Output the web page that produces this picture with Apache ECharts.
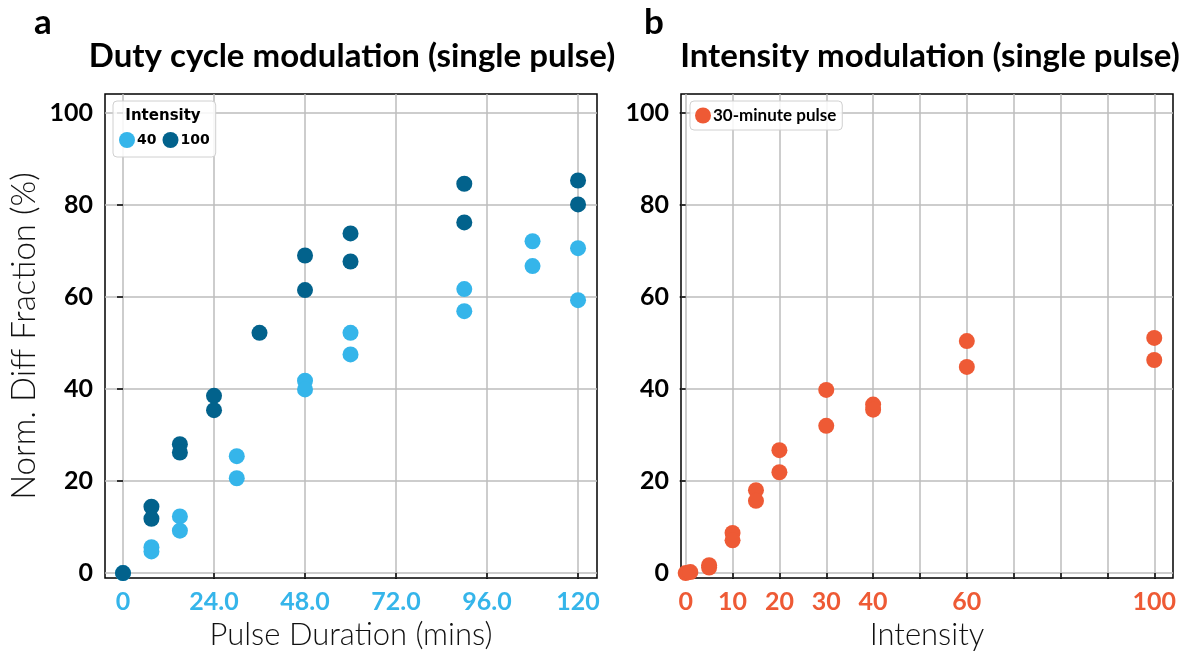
<!DOCTYPE html>
<html><head><meta charset="utf-8">
<script src="https://cdn.jsdelivr.net/npm/echarts@6/dist/echarts.min.js"></script>
<style>html,body{margin:0;padding:0;background:#fff}#c{width:1190px;height:655px}</style>
</head><body><div id="c"></div>
<script>
// ---- Panel a: duty cycle modulation ----
const durLight = [0, 7.5, 7.5, 15, 15, 30, 30, 48, 48, 60, 60, 90, 90, 108, 108, 120, 120];
const fracLight = [0, 5.6, 4.7, 12.3, 9.2, 25.4, 20.6, 41.8, 39.9, 52.2, 47.5, 61.7, 56.9, 72.1, 66.7, 70.6, 59.3];
const durDark = [0, 7.5, 7.5, 15, 15, 24, 24, 36, 48, 48, 60, 60, 90, 90, 120, 120];
const fracDark = [0, 14.4, 11.8, 28.0, 26.2, 38.5, 35.4, 52.2, 69.0, 61.5, 73.8, 67.7, 84.6, 76.2, 85.3, 80.1];
const xTickValsA = [0, 24, 48, 72, 96, 120];
const xTickLabelsA = ['0', '24.0', '48.0', '72.0', '96.0', '120'];
// ---- Panel b: intensity modulation ----
const intensity = [0, 1, 5, 5, 10, 10, 15, 15, 20, 20, 30, 30, 40, 40, 60, 60, 100, 100];
const fracInt = [0, 0.2, 1.7, 1.2, 8.7, 7.1, 18.0, 15.7, 26.7, 21.9, 39.8, 32.0, 36.6, 35.5, 50.4, 44.8, 51.1, 46.3];
const xTickValsB = [0, 10, 20, 30, 40, 50, 60, 70, 80, 90, 100];
const xLabelValsB = [0, 10, 20, 30, 40, 60, 100];
const yTickVals = [0, 20, 40, 60, 80, 100];

const cLight = '#35b5ea', cDark = '#02628c', cOrange = '#ee5a35';
const pair = (xs, ys) => xs.map((x, i) => [x, ys[i]]);
const tickFont = {fontFamily: 'Lato', fontWeight: 'bold', fontSize: 25};
const gridLine = {show: true, lineStyle: {color: '#bcbcbc', width: 1.5}};
const tickStyle = {show: true, length: 6, lineStyle: {color: '#000', width: 1.5}};
const nameFont = {fontFamily: 'Lato', fontWeight: 300, color: '#111'};

function yAxis(gridIndex, withName) {
  return {
    type: 'value', gridIndex, min: -1.1, max: 104.1,
    axisLine: {show: false},
    axisTick: Object.assign({customValues: yTickVals}, tickStyle),
    axisLabel: Object.assign({customValues: yTickVals, color: '#000', margin: 12}, tickFont),
    splitLine: Object.assign({customValues: yTickVals}, gridLine),
    name: withName ? 'Norm. Diff Fraction (%)' : '',
    nameLocation: 'middle', nameGap: 64,
    nameTextStyle: Object.assign({fontSize: 33}, nameFont)
  };
}

const option = {
  backgroundColor: '#fff',
  animation: false,
  grid: [
    {left: 105, right: 593, top: 94, bottom: 75, show: true, borderColor: '#000', borderWidth: 1.5},
    {left: 681, right: 17, top: 94, bottom: 75, show: true, borderColor: '#000', borderWidth: 1.5}
  ],
  xAxis: [
    {
      type: 'value', gridIndex: 0, min: -4.75, max: 125,
      axisLine: {show: false},
      axisTick: Object.assign({customValues: xTickValsA}, tickStyle),
      axisLabel: Object.assign({customValues: xTickValsA, color: cLight, margin: 11,
        formatter: v => xTickLabelsA[xTickValsA.indexOf(v)] ?? ''}, tickFont),
      splitLine: Object.assign({customValues: xTickValsA}, gridLine),
      name: 'Pulse Duration (mins)', nameLocation: 'middle', nameGap: 40,
      nameTextStyle: Object.assign({fontSize: 31}, nameFont)
    },
    {
      type: 'value', gridIndex: 1, min: -1, max: 104,
      axisLine: {show: false},
      axisTick: Object.assign({customValues: xTickValsB}, tickStyle),
      axisLabel: Object.assign({customValues: xLabelValsB, color: cOrange, margin: 11}, tickFont),
      splitLine: Object.assign({customValues: xTickValsB}, gridLine),
      name: 'Intensity', nameLocation: 'middle', nameGap: 40,
      nameTextStyle: Object.assign({fontSize: 31}, nameFont)
    }
  ],
  yAxis: [yAxis(0, true), yAxis(1, false)],
  legend: [
    {
      data: ['40', '100'], left: 113, top: 101, padding: [31, 6, 9, 6], itemGap: 6,
      icon: 'circle', itemWidth: 16, itemHeight: 16,
      backgroundColor: 'rgba(255,255,255,0.85)', borderColor: '#d0d0d0', borderWidth: 1, borderRadius: 4,
      textStyle: {fontFamily: 'DejaVu Sans', fontWeight: 'bold', fontSize: 14, color: '#000', padding: [0, 0, 0, -3]}
    },
    {
      data: ['30-minute pulse'], left: 690, top: 101, padding: [6, 6, 6, 5],
      icon: 'circle', itemWidth: 16, itemHeight: 16,
      backgroundColor: 'rgba(255,255,255,0.85)', borderColor: '#d0d0d0', borderWidth: 1, borderRadius: 4,
      textStyle: {fontFamily: 'Lato', fontWeight: 'bold', fontSize: 17, color: '#000', padding: [0, 0, 0, -3]}
    }
  ],
  graphic: [
    {type: 'text', left: 34, top: 5, style: {text: 'a', font: 'bold 35px Lato', fill: '#000'}},
    {type: 'text', left: 644, top: 5, style: {text: 'b', font: 'bold 35px Lato', fill: '#000'}},
    {type: 'text', x: 352, y: 56, style: {text: 'Duty cycle modulation (single pulse)', font: 'bold 33px Lato', fill: '#000', textAlign: 'center', textVerticalAlign: 'middle'}},
    {type: 'text', x: 930, y: 56, style: {text: 'Intensity modulation (single pulse)', font: 'bold 33px Lato', fill: '#000', textAlign: 'center', textVerticalAlign: 'middle'}},
    {type: 'text', x: 163, y: 116, z: 100, style: {text: 'Intensity', font: 'bold 15px "DejaVu Sans"', fill: '#000', textAlign: 'center', textVerticalAlign: 'middle'}}
  ],
  series: [
    {name: '40', type: 'scatter', xAxisIndex: 0, yAxisIndex: 0, symbolSize: 16, clip: true,
      itemStyle: {color: cLight, opacity: 1}, data: pair(durLight, fracLight)},
    {name: '100', type: 'scatter', xAxisIndex: 0, yAxisIndex: 0, symbolSize: 16, clip: true,
      itemStyle: {color: cDark, opacity: 1}, data: pair(durDark, fracDark)},
    {name: '30-minute pulse', type: 'scatter', xAxisIndex: 1, yAxisIndex: 1, symbolSize: 16, clip: true,
      itemStyle: {color: cOrange, opacity: 1}, data: pair(intensity, fracInt)}
  ]
};
const chart = echarts.init(document.getElementById('c'));
chart.setOption(option);
</script></body></html>
